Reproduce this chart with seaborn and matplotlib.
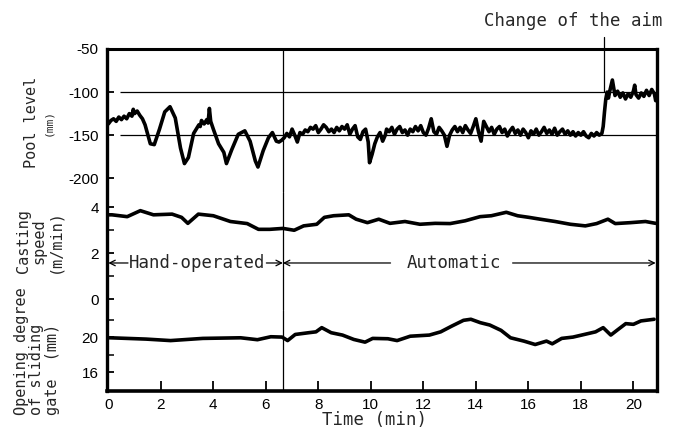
import matplotlib
matplotlib.use("Agg")
import matplotlib.pyplot as plt
from matplotlib.lines import Line2D
import seaborn as sns
import pandas as pd

# ---------------- data ----------------
pool_time = [0.0, 0.1, 0.2, 0.3, 0.4, 0.5, 0.6, 0.7, 0.8, 0.9, 0.95, 1.0, 1.1, 1.2, 1.3, 1.4,
             1.6, 1.75, 1.95, 2.15, 2.35, 2.55, 2.75, 2.9, 3.05, 3.25, 3.35, 3.45, 3.5, 3.55,
             3.65, 3.75, 3.8, 3.85, 3.9, 4.0, 4.2, 4.4, 4.5, 4.7, 4.95, 5.2, 5.4, 5.6, 5.7,
             5.9, 6.1, 6.25, 6.4,
             6.5, 6.6, 6.7, 6.8, 6.9, 7.0, 7.1, 7.2, 7.3, 7.4, 7.5, 7.6, 7.7, 7.8, 7.9,
             8.0, 8.1, 8.2, 8.3, 8.4, 8.5, 8.6, 8.7, 8.8, 8.9, 9.0, 9.1, 9.2, 9.3, 9.4,
             9.5, 9.6, 9.7, 9.8, 9.9, 9.95, 10.05, 10.15, 10.25, 10.35, 10.45, 10.55, 10.6,
             10.7, 10.8, 10.9, 11.0, 11.1, 11.2, 11.3, 11.4, 11.5, 11.6, 11.7, 11.8, 11.9,
             12.0, 12.1, 12.2, 12.3, 12.4, 12.5, 12.6, 12.7, 12.8, 12.9, 13.0, 13.1, 13.2,
             13.3, 13.4, 13.5, 13.6, 13.7, 13.8, 13.9, 14.0, 14.1, 14.2, 14.3, 14.4, 14.5,
             14.6, 14.7, 14.8, 14.9, 15.0, 15.1, 15.2, 15.3, 15.4, 15.5, 15.6, 15.7, 15.8,
             15.9, 16.0, 16.1, 16.2, 16.3, 16.4, 16.5, 16.6, 16.7, 16.8, 16.9, 17.0, 17.1,
             17.2, 17.3, 17.4, 17.5, 17.6, 17.7, 17.8, 17.9, 18.0, 18.1, 18.2, 18.3, 18.4,
             18.5, 18.6, 18.7, 18.8,
             18.85, 18.9, 18.95, 19.0, 19.05, 19.1, 19.2, 19.3, 19.4, 19.5, 19.6, 19.7,
             19.8, 19.9, 20.0, 20.05, 20.1, 20.2, 20.3, 20.4, 20.5, 20.6, 20.7, 20.8,
             20.85, 20.9]
pool_level = [-137, -133, -131, -134, -129, -132, -128, -131, -125, -128, -120, -125, -122, -127, -131, -138,
              -160, -161, -143, -123, -117, -130, -165, -183, -176, -148, -143, -138, -140, -133,
              -137, -132, -136, -119, -134, -143, -160, -170, -183, -167, -149, -145, -157, -180, -187,
              -168, -153, -147, -157,
              -158, -156, -153, -148, -152, -143, -150, -158, -147, -149, -144, -146, -141, -143, -139,
              -147, -143, -138, -141, -146, -143, -147, -141, -145, -140, -143, -138, -149, -143, -139,
              -152, -155, -146, -143, -158, -182, -172, -160, -152, -147, -157, -150, -143,
              -146, -141, -149, -143, -140, -147, -144, -150, -143, -146, -140, -145, -139,
              -147, -150, -142, -131, -146, -149, -141, -145, -150, -163, -150, -144, -140,
              -146, -141, -147, -139, -144, -148, -140, -131, -146, -157, -134, -140, -146,
              -141, -149, -143, -140, -147, -143, -151, -145, -141, -148, -144, -150, -143,
              -147, -153, -145, -149, -143, -150, -146, -141, -148, -144, -149, -142, -150,
              -146, -143, -149, -145, -150, -146, -151, -147, -150, -146, -151, -153, -148,
              -151, -147, -150, -148,
              -140, -123, -108, -100, -107, -99, -86, -104, -99, -106, -101, -108,
              -102, -106, -99, -92, -103, -107, -101, -105, -98, -104, -97, -102,
              -110, -108]

speed_time = [0.0, 0.14, 0.72, 1.22, 1.72, 2.43, 2.79, 3.03, 3.43, 4.0, 4.65, 5.29, 5.72, 6.15, 6.65,
              7.08, 7.44, 7.94, 8.23, 8.58, 9.16, 9.44, 9.87, 10.3, 10.73, 11.3, 11.87, 12.45, 13.02,
              13.59, 14.16, 14.59, 15.16, 15.59, 16.02, 16.45, 17.02, 17.6, 18.17, 18.6, 19.03,
              19.31, 19.89, 20.46, 20.85]
casting_speed = [3.67, 3.67, 3.59, 3.85, 3.67, 3.70, 3.56, 3.30, 3.70, 3.63, 3.38, 3.29, 3.04, 3.04, 3.08,
                 3.00, 3.19, 3.26, 3.56, 3.63, 3.67, 3.48, 3.33, 3.48, 3.30, 3.38, 3.26, 3.30, 3.29,
                 3.41, 3.59, 3.63, 3.78, 3.63, 3.56, 3.48, 3.38, 3.26, 3.19, 3.29, 3.48,
                 3.29, 3.33, 3.38, 3.30]

gate_time = [0.0, 0.07, 1.44, 2.37, 3.6, 5.04, 5.68, 6.19, 6.62, 6.83, 7.12, 7.63, 7.91, 8.13, 8.49,
             8.92, 9.35, 9.78, 10.07, 10.65, 11.0, 11.5, 12.23, 12.66, 13.09, 13.53, 13.81, 14.17,
             14.53, 14.96, 15.32, 15.83, 16.26, 16.69, 16.91, 17.27, 17.7, 18.13, 18.56, 18.85,
             19.14, 19.42, 19.71, 20.0, 20.29, 20.79]
gate_opening = [19.92, 19.92, 19.77, 19.6, 19.85, 19.92, 19.7, 20.04, 20.0, 19.6, 20.3, 20.5, 20.6, 21.08, 20.5,
                20.23, 19.73, 19.42, 19.85, 19.81, 19.6, 20.1, 20.23, 20.6, 21.27, 21.92, 22.04, 21.65,
                21.38, 20.77, 19.92, 19.54, 19.15, 19.54, 19.23, 19.85, 20.0, 20.3, 20.6, 21.08,
                20.23, 20.88, 21.54, 21.46, 21.85, 22.04]

x_ticks = [0, 2, 4, 6, 8, 10, 12, 14, 16, 18, 20]
pool_ticks = [-50, -100, -150, -200]
pool_tick_labels = ["-50", "-100", "-150", "-200"]
speed_ticks = [4, 2, 0]
speed_minor = [3, 1]
gate_ticks = [20, 16]
gate_minor = [22, 18]
pool_grid = [-100, -150]
HAND_END = 6.65
CHANGE_TIME = 18.9
X_MAX = 20.9

# ---------------- style ----------------
sns.set_style("white")
plt.rcParams["font.family"] = ["Liberation Sans", "DejaVu Sans"]
MONO = ["DejaVu Sans Mono", "DejaVu Sans"]

W, H = 680, 432
L, R, T, B = 107 / W, 657 / W, 1 - 49 / H, 1 - 391 / H
fig = plt.figure(figsize=(W / 100, H / 100), dpi=100)
gs = fig.add_gridspec(3, 1, height_ratios=[143, 118, 81], hspace=0,
                      left=L, right=R, top=T, bottom=B)
ax_pool = fig.add_subplot(gs[0])
ax_speed = fig.add_subplot(gs[1], sharex=ax_pool)
ax_gate = fig.add_subplot(gs[2], sharex=ax_pool)

df_pool = pd.DataFrame({"t": pool_time, "v": pool_level})
df_speed = pd.DataFrame({"t": speed_time, "v": casting_speed})
df_gate = pd.DataFrame({"t": gate_time, "v": gate_opening})

for ax, df in [(ax_pool, df_pool), (ax_speed, df_speed), (ax_gate, df_gate)]:
    ax.patch.set_visible(False)
    sns.lineplot(data=df, x="t", y="v", ax=ax, color="black", lw=2.6,
                 estimator=None, sort=False)
    ax.set_xlabel("")
    ax.set_ylabel("")
    ax.axvline(HAND_END, color="black", lw=0.9)
    for s in ["left", "right", "top", "bottom"]:
        ax.spines[s].set_visible(False)
    ax.tick_params(axis="y", direction="in", length=5, width=1.3, pad=6,
                   labelsize=11, left=True, colors="black")
    ax.tick_params(axis="y", which="minor", direction="in", length=5, width=1.3, left=True)

ax_pool.set_xlim(-0.05, X_MAX)

# continuous outer frame (left, right, top, bottom)
frame_kw = dict(transform=fig.transFigure, color="black", solid_capstyle="projecting", zorder=10)
fig.add_artist(Line2D([L, L], [B, T], lw=2.4, **frame_kw))
fig.add_artist(Line2D([R, R], [B, T], lw=2.4, **frame_kw))
fig.add_artist(Line2D([L, R], [T, T], lw=2.2, **frame_kw))
fig.add_artist(Line2D([L, R], [B, B], lw=2.6, **frame_kw))

for ax in (ax_pool, ax_speed):
    ax.tick_params(axis="x", bottom=False, labelbottom=False)

# pool level
ax_pool.set_ylim(-216, -50)
ax_pool.set_yticks(pool_ticks, pool_tick_labels)
ax_pool.hlines(pool_grid, 0.45, X_MAX, color="black", lw=0.9)
ax_pool.plot([CHANGE_TIME, CHANGE_TIME], [-100, -36], color="black", lw=0.9, clip_on=False)
ax_pool.text(CHANGE_TIME - 1.2, -18, "Change of the aim", family=MONO, fontsize=12.5,
             ha="center", va="center")

# casting speed
ax_speed.set_ylim(-0.46, 4.66)
ax_speed.set_yticks(speed_ticks)
ax_speed.set_yticks(speed_minor, minor=True)
ax_speed.set_yticklabels([str(v) for v in speed_ticks])
ax_speed.yaxis.set_minor_formatter(plt.NullFormatter())
arrow_y = 1.58
arr = dict(arrowstyle="->", lw=0.9, color="black", shrinkA=0, shrinkB=0)
ax_speed.annotate("", xy=(0, arrow_y), xytext=(0.75, arrow_y), arrowprops=arr)
ax_speed.annotate("", xy=(HAND_END, arrow_y), xytext=(6.02, arrow_y), arrowprops=arr)
ax_speed.text(3.39, arrow_y, "Hand-operated", family=MONO, fontsize=12.5, ha="center", va="center")
ax_speed.annotate("", xy=(HAND_END, arrow_y), xytext=(10.75, arrow_y), arrowprops=arr)
ax_speed.annotate("", xy=(X_MAX - 0.05, arrow_y), xytext=(15.4, arrow_y), arrowprops=arr)
ax_speed.text(13.16, arrow_y, "Automatic", family=MONO, fontsize=12.5, ha="center", va="center")

# sliding gate
ax_gate.set_ylim(13.83, 23.1)
ax_gate.set_yticks(gate_ticks)
ax_gate.set_yticks(gate_minor, minor=True)
ax_gate.set_yticklabels([str(v) for v in gate_ticks])
ax_gate.yaxis.set_minor_formatter(plt.NullFormatter())
ax_gate.set_xticks(x_ticks)
ax_gate.set_xticklabels([str(v) for v in x_ticks])
ax_gate.tick_params(axis="x", direction="in", length=7, width=1.3, pad=5, labelsize=11,
                    bottom=True, colors="black")

# axis titles
fig.text(375 / W, 1 - 420 / H, "Time (min)", family=MONO, fontsize=12.5, ha="center", va="center")
fig.text(32 / W, 1 - 122 / H, "Pool level", family=MONO, fontsize=11, rotation=90,
         ha="center", va="center")
fig.text(48 / W, 1 - 123 / H, "(mm)", family=MONO, fontsize=8, rotation=90,
         ha="center", va="center")
fig.text(39 / W, 1 - 241 / H, "Casting\nspeed\n(m/min)", family=MONO, fontsize=11,
         rotation=90, ha="center", va="center", multialignment="center", linespacing=1.05)
fig.text(37 / W, 1 - 415 / H, "Opening degree\nof sliding\ngate  (mm)", family=MONO,
         fontsize=11, rotation=90, ha="center", va="bottom", multialignment="left",
         linespacing=1.05)

fig.savefig("out.png", dpi=100, facecolor="white")
